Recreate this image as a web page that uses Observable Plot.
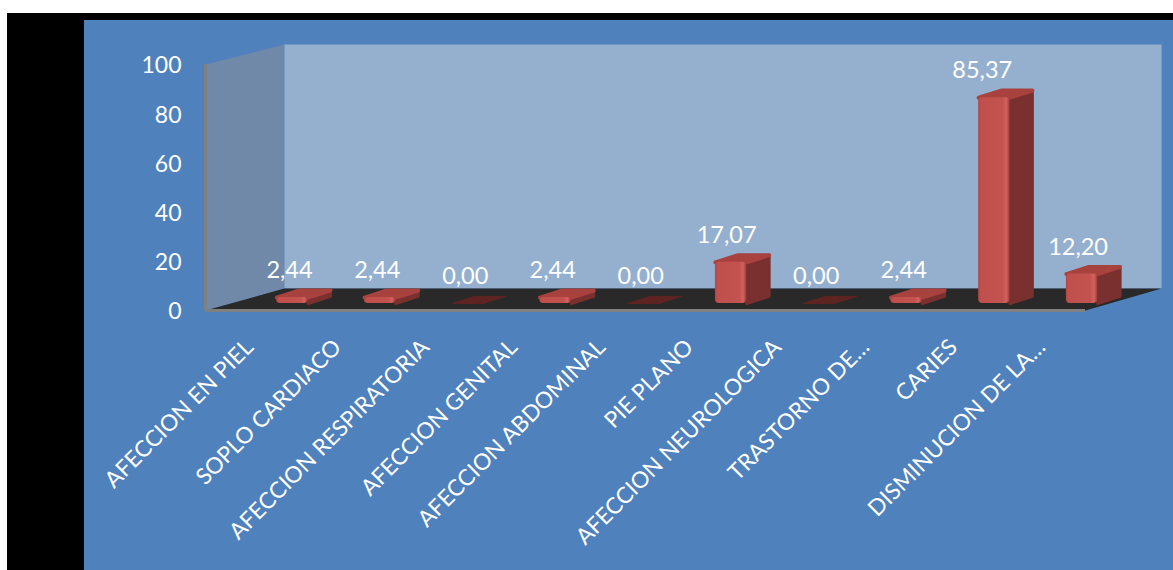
<!DOCTYPE html>
<html><head><meta charset="utf-8">
<script src="https://cdn.jsdelivr.net/npm/d3@7"></script>
<script src="https://cdn.jsdelivr.net/npm/@observablehq/plot@0.6"></script>
<style>
html,body{margin:0;padding:0;background:#fff;overflow:hidden;width:1173px;height:570px}
#black{position:absolute;left:7px;top:13px;right:0;bottom:0;background:#000}
#panel{position:absolute;left:84px;top:20px;right:0;bottom:0;background:#4f81bd}
#chart{position:absolute;left:0;top:0}
svg{display:block}
</style></head><body>
<div id="black"></div><div id="panel"></div><div id="chart"></div>
<script>
const categories = ["AFECCION EN PIEL","SOPLO CARDIACO","AFECCION RESPIRATORIA","AFECCION GENITAL","AFECCION ABDOMINAL","PIE PLANO","AFECCION NEUROLOGICA","TRASTORNO DE…","CARIES","DISMINUCION DE LA…"];
const values = [2.44,2.44,0,2.44,0,17.07,0,2.44,85.37,12.20];
const yTicks = [0,20,40,60,80,100];

// projection constants, in data units (x: category slots, y: value)
const FONT = "Lato, 'Open Sans', sans-serif";
const P = {
  backL:0.895, backR:10.865, backY0:8.94, backY1:108.1, sideY1:100,
  barX0:0.81, barStep:0.997, barW:0.355, barDX:0.255, barDY:2.9, baseY:2.85, yK:0.98
};
const barX = i => P.barX0 + i*P.barStep;
const topY = v => P.baseY + v*P.yK;

function poly(id, pts){ return pts.map(([x,y])=>({id,x,y})); }
const leftWall = poly("l",[[0,0],[P.backL,P.backY0],[P.backL,P.backY1],[0,P.sideY1],[0,0]]);
const backWall = poly("b",[[P.backL,P.backY0],[P.backR,P.backY0],[P.backR,P.backY1],[P.backL,P.backY1],[P.backL,P.backY0]]);
const floorPoly = poly("f",[[0,0],[10,0],[P.backR,P.backY0],[P.backL,P.backY0],[0,0]]);

const rows = values.map((v,i)=>({i,v,name:categories[i]}));
const live = rows.filter(d=>d.v>0);
const sides = live.flatMap(d=>{const x=barX(d.i)+P.barW,t=topY(d.v);
  return poly(d.i,[[x,P.baseY],[x+P.barDX,P.baseY+P.barDY],[x+P.barDX,t+P.barDY],[x,t],[x,P.baseY]]);});
const tops = rows.flatMap(d=>{const x=barX(d.i),t=topY(d.v);
  return poly(d.i,[[x,t],[x+P.barW,t],[x+P.barW+P.barDX,t+P.barDY],[x+P.barDX,t+P.barDY],[x,t]]).map(p=>({...p,v:d.v}));});

const NS="http://www.w3.org/2000/svg";
function defs(){
  const g=document.createElementNS(NS,"g");
  g.innerHTML=`<defs>
   <linearGradient id="fr" x1="0" x2="1" y1="0" y2="0">
    <stop offset="0" stop-color="#b04643"/><stop offset=".08" stop-color="#c0504d"/>
    <stop offset=".78" stop-color="#c4534f"/><stop offset=".9" stop-color="#d2625d"/><stop offset="1" stop-color="#a03e3b"/>
   </linearGradient></defs>`;
  return g;
}

const chart = Plot.plot({
  width:1173, height:570,
  marginLeft:205, marginRight:88, marginTop:64, marginBottom:260,
  style:{background:"transparent",fontFamily:FONT,overflow:"visible"},
  x:{domain:[0,10],axis:null},
  y:{domain:[0,100],axis:null},
  marks:[
    defs,
    Plot.line(backWall,{x:"x",y:"y",z:"id",fill:"#95b0cf",stroke:"none"}),
    Plot.line(leftWall,{x:"x",y:"y",z:"id",fill:"#7089a8",stroke:"none"}),
    Plot.line(floorPoly,{x:"x",y:"y",z:"id",fill:"#292929",stroke:"none"}),
    Plot.ruleY([0],{x1:0,x2:10,stroke:"#808080",strokeWidth:3}),
    Plot.ruleX([0],{y1:0,y2:P.sideY1,stroke:"#808080",strokeWidth:3}),
    Plot.line(sides,{x:"x",y:"y",z:"id",fill:"#7a302e",stroke:"#7a302e",strokeWidth:3,strokeLinejoin:"round"}),
    Plot.line(tops.filter(d=>d.v===0),{x:"x",y:"y",z:"id",fill:"#5e2422",stroke:"#5e2422",strokeWidth:1,strokeLinejoin:"round"}),
    Plot.line(tops.filter(d=>d.v>0),{x:"x",y:"y",z:"id",fill:"#a8423f",stroke:"#a8423f",strokeWidth:4,strokeLinejoin:"round"}),
    Plot.rect(live,{x1:d=>barX(d.i),x2:d=>barX(d.i)+P.barW,y1:P.baseY,y2:d=>topY(d.v),fill:"url(#fr)",rx:4}),
    Plot.text(rows,{x:d=>barX(d.i)+(13-0.11*d.v)/88,y:d=>topY(d.v),dy:-27,
      text:d=>d.v.toFixed(2).replace(".",","),fill:"white",fontSize:23.5,textAnchor:"middle"}),
    Plot.axisY({ticks:yTicks,tickSize:0,tickPadding:24,fontSize:23,color:"white",label:null,dy:1.5,tickFormat:d=>String(d)}),
    Plot.axisX(rows.map(d=>d.i+0.5),{tickSize:0,tickPadding:33,tickRotate:-45,fontSize:22.6,color:"white",label:null,
      tickFormat:d=>categories[d-0.5]})
  ]
});
document.getElementById("chart").append(chart);
</script></body></html>
